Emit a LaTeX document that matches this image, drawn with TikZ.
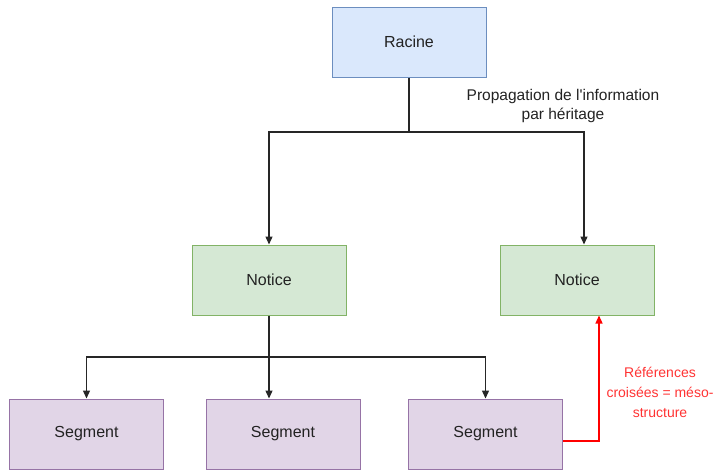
\documentclass[tikz,border=0pt]{standalone}
\usepackage{fontspec}
\setmainfont{Liberation Sans}
\usetikzlibrary{arrows.meta}
\definecolor{bluefill}{HTML}{DAE8FC}
\definecolor{bluedraw}{HTML}{6C8EBF}
\definecolor{greenfill}{HTML}{D5E8D4}
\definecolor{greendraw}{HTML}{82B366}
\definecolor{purplefill}{HTML}{E1D5E7}
\definecolor{purpledraw}{HTML}{9673A6}
\definecolor{txt}{HTML}{222222}
\definecolor{redline}{HTML}{FF0000}
\definecolor{redtxt}{HTML}{FF3333}
\begin{document}
\begin{tikzpicture}[x=1pt,y=-1pt,
  box/.style={draw, line width=1pt, minimum width=154pt, minimum height=70pt, inner sep=0pt, text=txt, font=\fontsize{16}{19}\selectfont},
  rootbox/.style={box, fill=bluefill, draw=bluedraw},
  noticebox/.style={box, fill=greenfill, draw=greendraw},
  segbox/.style={box, fill=purplefill, draw=purpledraw},
  conn/.style={draw=black!85, line width=1.3pt, -{Triangle[length=8pt,width=7pt]}},
  redconn/.style={draw=redline, line width=1.3pt, -{Triangle[length=8pt,width=7pt]}},
  lbl/.style={align=center, font=\fontsize{15.5}{19.5}\selectfont, inner sep=0pt},
  redlbl/.style={align=center, font=\fontsize{14}{20}\selectfont, inner sep=0pt, text=redtxt}
]
\useasboundingbox (0,0) rectangle (717,472);
\node[rootbox] (racine) at (409,42) {Racine};
\node[noticebox] (nl) at (269,280) {Notice};
\node[noticebox] (nr) at (577,280) {Notice};
\node[segbox] (s1) at (86.5,434) {Segment};
\node[segbox] (s2) at (283,434) {Segment};
\node[segbox] (s3) at (485.5,434) {Segment};

\coordinate (j1) at (409,132);
\coordinate (j2) at (269,357);
\draw[conn, -] (racine.south) -- (j1);
\draw[conn] (j1) -| (nl.north);
\draw[conn] (j1) -| ([xshift=7pt]nr.north);
\draw[conn, -] (nl.south) -- (j2);
\draw[conn] (j2) -| (s1.north);
\draw[conn] (j2) -- ([xshift=-14pt]s2.north);
\draw[conn] (j2) -| (s3.north);
\draw[redconn] ([yshift=-7pt]s3.east) -| ([xshift=22pt]nr.south);

\node[lbl, text=txt] (prop) at (563,106) {Propagation de l\textquotesingle information\\par héritage};
\node[redlbl] (ref) at (660,392) {Références\\croisées = méso-\\structure};
\end{tikzpicture}
\end{document}
